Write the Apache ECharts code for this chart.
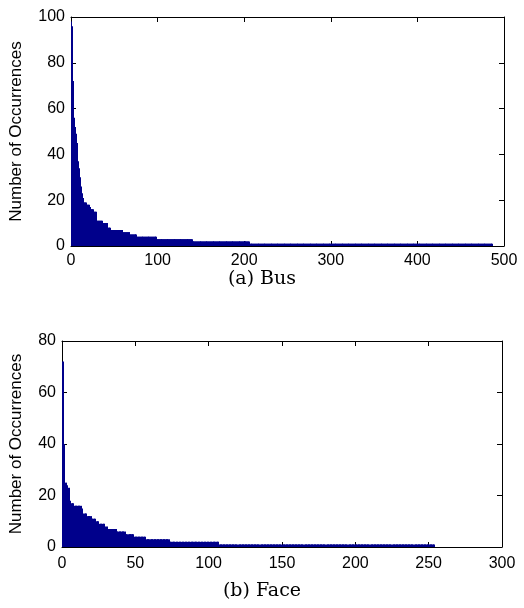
<!DOCTYPE html>
<html><head><meta charset="utf-8">
<script src="https://cdn.jsdelivr.net/npm/echarts@6/dist/echarts.min.js"></script>
<style>html,body{margin:0;padding:0;background:#fff}#c{width:524px;height:608px}</style>
</head><body><div id="c"></div>
<script>
// Sorted occurrence counts, stored as runs (level, number of consecutive bars)
const busLevels  = [98,96,72,56,52,49,45,42,37,34,30,26,23,21,20,19,18,17,16,15,11,10,8,7,6,5,4,3,2,1];
const busCounts  = [ 1, 1, 1, 1, 1, 1, 1, 1, 1, 1, 1, 1, 1, 1, 1, 3, 3, 2, 3, 3, 7, 6,4,13,9,8,23,41,66,281];
const faceLevels = [72,40,25,24,23,18,17,16,15,13,12,11,10,9,8,7,6,5,4,3,2,1];
const faceCounts = [ 1, 1, 1, 1, 1, 1, 2, 5, 1, 3, 3, 3, 2,4,2,6,6,6,8,16,34,147];
const busXMax = 500, busYMax = 100, busXStep = 100, busYStep = 20;
const faceXMax = 300, faceYMax = 80, faceXStep = 50, faceYStep = 20;
const yName = 'Number of Occurrences';
const captions = ['(a) Bus', '(b) Face'];

function expand(levels, counts) {
  const out = []; let i = 0;
  levels.forEach((v, k) => { for (let j = 0; j < counts[k]; j++) { out.push([i, v]); i++; } });
  return out;
}
const busData = expand(busLevels, busCounts);
const faceData = expand(faceLevels, faceCounts);

const FONT = 'Liberation Sans, Arial, sans-serif';
const BAR = '#00008b';
const lineStyle = { color: '#000', width: 1 };

function renderBar(params, api) {
  const i = api.value(0), v = api.value(1);
  const p0 = api.coord([i, v]);
  const p1 = api.coord([i + 1, 0]);
  const x0 = Math.floor(p0[0]), x1 = Math.max(Math.ceil(p1[0]), x0 + 1);
  return { type: 'rect', shape: { x: x0, y: p0[1], width: x1 - x0, height: p1[1] - p0[1] },
           style: { fill: BAR } };
}

function xAxes(grid, max, step, margin) {
  return [
    { type: 'value', gridIndex: grid, position: 'bottom', min: 0, max: max, interval: step,
      axisLine: { show: true, onZero: false, lineStyle }, axisTick: { show: true, inside: true, length: 5, lineStyle },
      splitLine: { show: false },
      axisLabel: { show: true, color: '#000', fontFamily: FONT, fontSize: 16, margin: margin } },
    { type: 'value', gridIndex: grid, position: 'top', min: 0, max: max, interval: step,
      axisLine: { show: true, onZero: false, lineStyle }, axisTick: { show: true, inside: true, length: 5, lineStyle },
      splitLine: { show: false }, axisLabel: { show: false } }
  ];
}
function yAxes(grid, max, step, gap) {
  return [
    { type: 'value', gridIndex: grid, position: 'left', min: 0, max: max, interval: step,
      name: yName, nameLocation: 'middle', nameGap: gap,
      nameTextStyle: { color: '#000', fontFamily: FONT, fontSize: 17 },
      axisLine: { show: true, onZero: false, lineStyle }, axisTick: { show: true, inside: true, length: 5, lineStyle },
      splitLine: { show: false },
      axisLabel: { show: true, color: '#000', fontFamily: FONT, fontSize: 16, margin: 6 } },
    { type: 'value', gridIndex: grid, position: 'right', min: 0, max: max, interval: step,
      axisLine: { show: true, onZero: false, lineStyle }, axisTick: { show: true, inside: true, length: 5, lineStyle },
      splitLine: { show: false }, axisLabel: { show: false } }
  ];
}

const chart = echarts.init(document.getElementById('c'), null, { renderer: 'canvas' });
chart.setOption({
  backgroundColor: '#fff',
  animation: false,
  grid: [
    { left: 71, right: 20, top: 17, height: 229 },
    { left: 62, right: 22, top: 341, height: 206 }
  ],
  xAxis: [].concat(xAxes(0, busXMax, busXStep, 7), xAxes(1, faceXMax, faceXStep, 9)),
  yAxis: [].concat(yAxes(0, busYMax, busYStep, 46), yAxes(1, faceYMax, faceYStep, 37)),
  series: [
    { type: 'custom', xAxisIndex: 0, yAxisIndex: 0, data: busData, renderItem: renderBar, encode: { x: 0, y: 1 } },
    { type: 'custom', xAxisIndex: 2, yAxisIndex: 2, data: faceData, renderItem: renderBar, encode: { x: 0, y: 1 } }
  ],
  graphic: [
    { type: 'text', left: 'center', top: 270, style: { text: captions[0], font: '19px "DejaVu Serif", serif', fill: '#000' } },
    { type: 'text', left: 'center', top: 582, style: { text: captions[1], font: '19px "DejaVu Serif", serif', fill: '#000' } }
  ]
});
</script>
</body></html>
